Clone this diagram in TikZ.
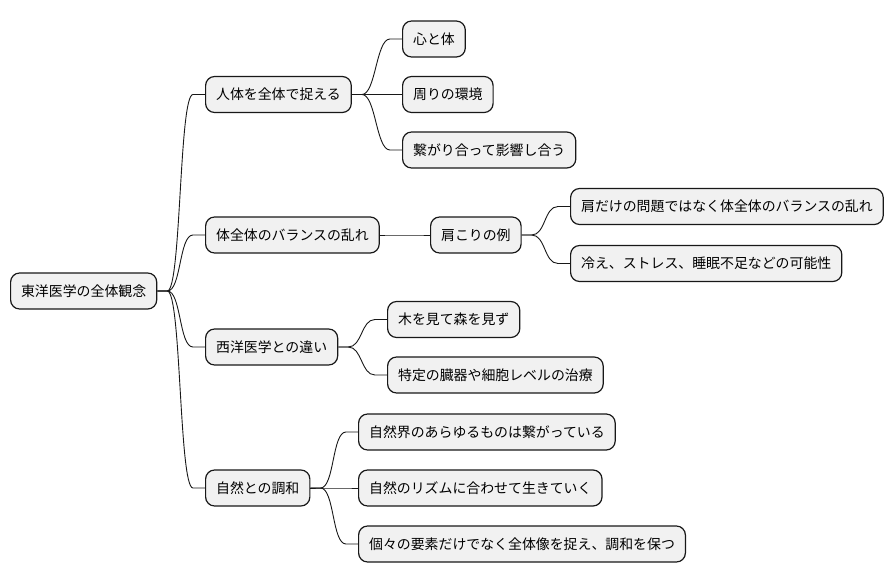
\documentclass[tikz,border=0pt]{standalone}
\usepackage{fontspec}
\setmainfont{Noto Sans CJK JP}
\usetikzlibrary{calc}
\definecolor{boxfill}{HTML}{F1F1F1}
\definecolor{boxline}{HTML}{181818}
\tikzset{
	mnode/.style={draw=boxline,fill=boxfill,line width=1.2pt,rounded corners=9pt,anchor=west,
		inner xsep=10.5pt,inner ysep=0pt,minimum height=36pt,font=\fontsize{13.9}{16}\selectfont},
	mlink/.style={draw=boxline,line width=0.9pt}
}
\newcommand{\branch}[2]{\draw[mlink] (#1.east) -- ++(10pt,0) .. controls +(14pt,0) and +(-14pt,0) .. ([xshift=-12pt]#2.west) -- (#2.west);}

\begin{document}
\begin{tikzpicture}[x=1pt,y=-1pt]
	\useasboundingbox (0,0) rectangle (894,583);
	% root and first level
	\node[mnode] (root) at (10,291) {東洋医学の全体観念};
	\node[mnode] (n1) at (205,94.5) {人体を全体で捉える};
	\node[mnode] (n2) at (205,235) {体全体のバランスの乱れ};
	\node[mnode] (n3) at (205,347) {西洋医学との違い};
	\node[mnode] (n4) at (205,488) {自然との調和};
	% second level
	\node[mnode] (n11) at (402,39) {心と体};
	\node[mnode] (n12) at (402,94.5) {周りの環境};
	\node[mnode] (n13) at (402,150) {繋がり合って影響し合う};
	\node[mnode] (n21) at (430,235) {肩こりの例};
	\node[mnode] (n211) at (570,206.5) {肩だけの問題ではなく体全体のバランスの乱れ};
	\node[mnode] (n212) at (570,263.5) {冷え、ストレス、睡眠不足などの可能性};
	\node[mnode] (n31) at (387,319.5) {木を見て森を見ず};
	\node[mnode] (n32) at (387,375) {特定の臓器や細胞レベルの治療};
	\node[mnode] (n41) at (358,432) {自然界のあらゆるものは繋がっている};
	\node[mnode] (n42) at (358,488) {自然のリズムに合わせて生きていく};
	\node[mnode] (n43) at (358,544) {個々の要素だけでなく全体像を捉え、調和を保つ};
	% links
	\foreach \c in {n1,n2,n3,n4} {\branch{root}{\c}}
	\foreach \c in {n11,n12,n13} {\branch{n1}{\c}}
	\branch{n2}{n21}
	\foreach \c in {n211,n212} {\branch{n21}{\c}}
	\foreach \c in {n31,n32} {\branch{n3}{\c}}
	\foreach \c in {n41,n42,n43} {\branch{n4}{\c}}
\end{tikzpicture}
\end{document}
